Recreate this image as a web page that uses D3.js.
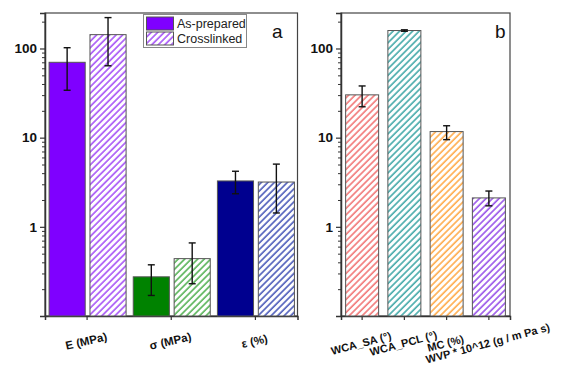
<!DOCTYPE html>
<html><head><meta charset="utf-8">
<script src="https://cdn.jsdelivr.net/npm/d3@7"></script>
<style>body{margin:0;background:#fff}svg{display:block}text{font-family:"Liberation Sans",Arial,sans-serif}</style>
</head><body><svg id="c" width="576" height="368"></svg>
<script>
// Panel a data
const catsA = ["E (MPa)", "σ (MPa)", "ε (%)"];
const seriesA = ["As-prepared", "Crosslinked"];
const asPrepared = [70, 0.275, 3.27];
const asPreparedErrLo = [34, 0.17, 2.35];
const asPreparedErrHi = [102, 0.375, 4.2];
const crosslinked = [143, 0.44, 3.18];
const crosslinkedErrLo = [64, 0.23, 1.43];
const crosslinkedErrHi = [222, 0.66, 5.05];
const solidColorsA = ["#7f00ff", "#008200", "#00008f"];
const hatchColorsA = ["#9a3cf5", "#3ea83e", "#3344b0"];
// Panel b data
const catsB = ["WCA_SA (°)", "WCA_PCL (°)", "MC (%)", "WVP * 10^12 (g / m Pa s)"];
const valuesB = [30.2, 159, 11.7, 2.11];
const errLoB = [22.2, 156, 9.5, 1.72];
const errHiB = [38, 162, 13.6, 2.52];
const colorsB = ["#f06464", "#2a9d9d", "#ffa033", "#8a3ce6"];
const yTicks = [1, 10, 100];

const svg = d3.select("#c");
const defs = svg.append("defs");
function hatch(id, color) {
  const w = 4.6;
  const p = defs.append("pattern").attr("id", id).attr("patternUnits", "userSpaceOnUse")
    .attr("width", w).attr("height", w).attr("patternTransform", "rotate(45)");
  p.append("rect").attr("width", w).attr("height", w).attr("fill", "#fff");
  p.append("line").attr("x1", 1).attr("y1", 0).attr("x2", 1).attr("y2", w)
    .attr("stroke", color).attr("stroke-width", 1.4);
  return "url(#" + id + ")";
}

const plotTop = 13, plotBottom = 316;
function panel(x0, x1, cats) {
  const y = d3.scaleLog().domain([0.1, 250]).range([plotBottom, plotTop]);
  const x = d3.scaleBand().domain(cats).range([x0, x1]);
  const g = svg.append("g");
  g.append("rect").attr("x", x0).attr("y", plotTop).attr("width", x1 - x0).attr("height", plotBottom - plotTop)
    .attr("fill", "none").attr("stroke", "#444").attr("stroke-width", 1.2);
  const minor = [];
  for (let d = 0.1; d < 250; d *= 10) for (let k = 2; k <= 9; k++) if (d * k <= 250) minor.push(d * k);
  g.append("g").attr("transform", `translate(${x0},0)`)
    .call(d3.axisLeft(y).tickValues(minor).tickSize(3).tickFormat(""))
    .call(s => { s.select(".domain").remove(); s.selectAll("line").attr("stroke", "#333"); });
  g.append("g").attr("transform", `translate(${x0},0)`)
    .call(d3.axisLeft(y).tickValues(yTicks).tickSize(5).tickPadding(3).tickFormat(d3.format("d")))
    .call(s => {
      s.select(".domain").attr("stroke", "#333").attr("stroke-width", 1.5);
      s.selectAll("line").attr("stroke", "#333").attr("stroke-width", 1.2);
      s.selectAll("text").attr("font-size", 13.5).attr("font-weight", "bold").attr("fill", "#111")
        .attr("font-family", '"Liberation Sans",Arial,sans-serif');
    });
  g.append("g").attr("transform", `translate(0,${plotBottom})`)
    .call(d3.axisBottom(x).tickSize(4).tickFormat(""))
    .call(s => {
      s.select(".domain").attr("stroke", "#333").attr("stroke-width", 1.5);
      s.selectAll("line").attr("stroke", "#333").attr("stroke-width", 1.2);
    });
  return { x, y, g };
}

function errBar(g, cx, y, lo, hi, cap) {
  g.append("line").attr("x1", cx).attr("x2", cx).attr("y1", y(lo)).attr("y2", y(hi))
    .attr("stroke", "#111").attr("stroke-width", 1.4);
  [lo, hi].forEach(v => g.append("line").attr("x1", cx - cap).attr("x2", cx + cap)
    .attr("y1", y(v)).attr("y2", y(v)).attr("stroke", "#111").attr("stroke-width", 1.4));
}

// Panel a
const A = panel(45, 297.5, catsA);
const sub = d3.scaleBand().domain(seriesA).range([-38, 39]).paddingInner(0.117);
catsA.forEach((c, i) => {
  const cx = A.x(c) + A.x.bandwidth() / 2;
  const fills = [solidColorsA[i], hatch("ha" + i, hatchColorsA[i])];
  const vals = [asPrepared[i], crosslinked[i]];
  const lo = [asPreparedErrLo[i], crosslinkedErrLo[i]];
  const hi = [asPreparedErrHi[i], crosslinkedErrHi[i]];
  seriesA.forEach((s, j) => {
    const bx = cx + sub(s);
    A.g.append("rect").attr("x", bx).attr("width", sub.bandwidth())
      .attr("y", A.y(vals[j])).attr("height", plotBottom - A.y(vals[j]))
      .attr("fill", fills[j]).attr("stroke", "#555").attr("stroke-width", 1);
    errBar(A.g, bx + sub.bandwidth() / 2, A.y, lo[j], hi[j], 3.5);
  });
  A.g.append("text").attr("transform", `translate(${cx},345) rotate(-13)`)
    .attr("text-anchor", "middle").attr("font-size", 11.5).attr("font-weight", "bold").attr("fill", "#111")
    .text(c);
});
const lg = A.g.append("g");
lg.append("rect").attr("x", 143.5).attr("y", 14.5).attr("width", 103).attr("height", 33)
  .attr("fill", "#fff").attr("stroke", "#888").attr("stroke-width", 1);
const legFills = [solidColorsA[0], hatch("hleg", hatchColorsA[0])];
seriesA.forEach((s, j) => {
  lg.append("rect").attr("x", 146.5).attr("y", 17 + j * 15).attr("width", 27).attr("height", 13)
    .attr("fill", legFills[j]).attr("stroke", "#555").attr("stroke-width", 1);
  lg.append("text").attr("x", 177).attr("y", 28 + j * 15).attr("font-size", 12.5).attr("fill", "#222").text(s);
});
A.g.append("text").attr("x", 272).attr("y", 38).attr("font-size", 19).attr("fill", "#111").text("a");

// Panel b
const B = panel(341, 510, catsB);
const bw = 33;
catsB.forEach((c, i) => {
  const cx = B.x(c) + B.x.bandwidth() / 2;
  B.g.append("rect").attr("x", cx - bw / 2).attr("width", bw)
    .attr("y", B.y(valuesB[i])).attr("height", plotBottom - B.y(valuesB[i]))
    .attr("fill", hatch("hb" + i, colorsB[i])).attr("stroke", "#555").attr("stroke-width", 1);
  errBar(B.g, cx, B.y, errLoB[i], errHiB[i], 3.5);
  B.g.append("text").attr("transform", `translate(${cx},347) rotate(-15)`)
    .attr("text-anchor", "middle").attr("font-size", 11).attr("font-weight", "bold").attr("fill", "#111")
    .text(c);
});
B.g.append("text").attr("x", 495).attr("y", 38).attr("font-size", 19).attr("fill", "#111").text("b");
</script></body></html>
